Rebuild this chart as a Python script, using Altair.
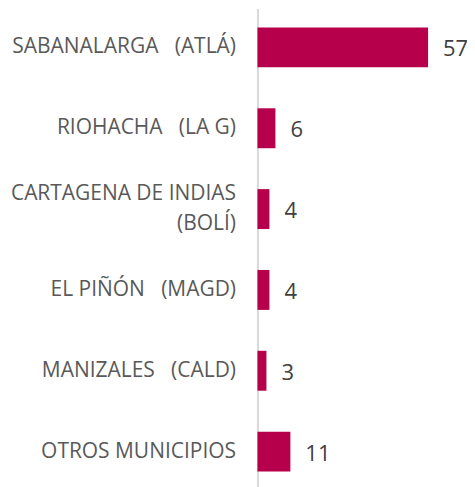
import altair as alt
import pandas as pd

SP = "\u00a0\u00a0\u00a0"
categories = [
    "SABANALARGA" + SP + "(ATLÁ)",
    "RIOHACHA" + SP + "(LA G)",
    "CARTAGENA DE INDIAS|(BOLÍ)",
    "EL PIÑÓN" + SP + "(MAGD)",
    "MANIZALES" + SP + "(CALD)",
    "OTROS MUNICIPIOS",
]
values = [57, 6, 4, 4, 3, 11]

df = pd.DataFrame({"cat": categories, "v": values})

base = alt.Chart(df).encode(
    y=alt.Y(
        "cat:N",
        sort=categories,
        scale=alt.Scale(paddingInner=0.506, paddingOuter=0.234),
        axis=alt.Axis(
            title=None,
            ticks=False,
            labelPadding=22,
            labelFont="Open Sans",
            labelFontSize=21,
            labelColor="#595959",
            domainColor="#d9d9d9",
            domainWidth=2,
            labelExpr="split(datum.label, '|')",
            labelLineHeight=30,
            labelLimit=0,
            labelOffset={"condition": {"test": "indexof(datum.value, '|') >= 0", "value": -15}, "value": 0},
        ),
    )
)

bars = base.mark_bar(color="#B7004B").encode(
    x=alt.X("v:Q", scale=alt.Scale(domain=[0, 65]), axis=None)
)
text = base.mark_text(
    align="left", baseline="middle", dx=15, dy=2,
    font="Open Sans", fontSize=22, color="#404040"
).encode(x=alt.X("v:Q"), text=alt.Text("v:Q"))

chart = (bars + text).properties(
    width=195,
    height=483,
    padding={"left": 250, "top": 0, "right": 15, "bottom": 0},
    autosize=alt.AutoSizeParams(type="none"),
).configure_view(stroke=None)

chart.save("out.html", embed_options={"renderer": "svg", "actions": False})
